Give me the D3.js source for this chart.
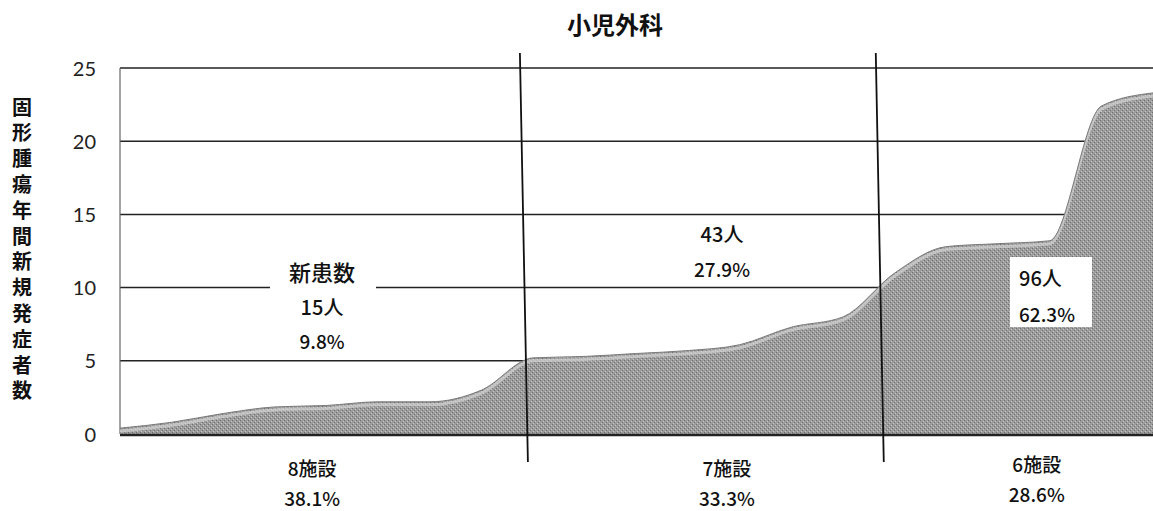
<!DOCTYPE html>
<html><head><meta charset="utf-8">
<script src="https://cdn.jsdelivr.net/npm/d3@7"></script>
<style>
body{margin:0;background:#fff;}
svg{display:block;}
</style></head>
<body>
<script>
// ---- data ----
const title = "小児外科";
const yLabel = "固形腫瘍年間新規発症者数";
const facilities = d3.range(1, 22); // 21 facilities
const patients = [0.4, 0.8, 1.4, 1.85, 1.95, 2.2, 2.2, 3.0,
                  5.2, 5.3, 5.5, 5.7, 6.1, 7.3, 8.0,
                  11.0, 12.8, 13.0, 13.2, 22.4, 23.3];
const yTicks = [0, 5, 10, 15, 20, 25];
const groupBreaks = [7.82, 14.71];
const groupCenters = [3.72, 11.75, 17.75];
const groupFacilities = ["8施設", "7施設", "6施設"];
const groupFacilityPct = ["38.1%", "33.3%", "28.6%"];
const groupPatients = ["15人", "43人", "96人"];
const groupPatientPct = ["9.8%", "27.9%", "62.3%"];

const W = 1153, H = 511;
const svg = d3.select("body").append("svg").attr("width", W).attr("height", H);

const x = d3.scaleLinear().domain([0, 20]).range([120, 1153]);
const y = d3.scaleLinear().domain([0, 25]).range([434, 68]);

// dither-like pattern
const defs = svg.append("defs");
const pat = defs.append("pattern").attr("id", "dith").attr("width", 4).attr("height", 4)
  .attr("patternUnits", "userSpaceOnUse");
pat.append("rect").attr("width", 4).attr("height", 4).attr("fill", "#9c9c9c");
pat.append("rect").attr("x", 0).attr("y", 0).attr("width", 1).attr("height", 1).attr("fill", "#6e6e6e");
pat.append("rect").attr("x", 2).attr("y", 2).attr("width", 1).attr("height", 1).attr("fill", "#6e6e6e");
pat.append("rect").attr("x", 1).attr("y", 3).attr("width", 1).attr("height", 1).attr("fill", "#c4c4c4");
pat.append("rect").attr("x", 3).attr("y", 1).attr("width", 1).attr("height", 1).attr("fill", "#c4c4c4");

// title
svg.append("text").attr("x", 615).attr("y", 34).attr("text-anchor", "middle")
  .attr("font-family", "Noto Sans CJK JP").attr("font-size", 24).attr("font-weight", 700)
  .attr("fill", "#111").text(title);

// y label (vertical, one text)
svg.append("text").attr("x", 22).attr("y", 97)
  .attr("font-family", "Noto Sans CJK JP").attr("font-size", 20).attr("font-weight", 700)
  .attr("fill", "#111").style("writing-mode", "vertical-rl").style("letter-spacing", "5.8px")
  .text(yLabel);

// gridlines
svg.append("g").selectAll("line").data(yTicks.filter(d => d > 0)).join("line")
  .attr("x1", x(0)).attr("x2", W).attr("y1", d => y(d)).attr("y2", d => y(d))
  .attr("stroke", "#222").attr("stroke-width", 1.5);

// left border of plot
svg.append("line").attr("x1", x(0)).attr("x2", x(0)).attr("y1", y(25)).attr("y2", y(0))
  .attr("stroke", "#666").attr("stroke-width", 1.2);

// y axis tick labels
const yAxis = d3.axisLeft(y).tickValues(yTicks).tickSize(0).tickPadding(0);
const gy = svg.append("g").attr("transform", "translate(96,0)").call(yAxis);
gy.select(".domain").remove();
gy.selectAll("text").attr("font-family", "Lato").attr("font-size", 20).attr("fill", "#222")
  .attr("dy", "0.35em");

// area
const curve = d3.curveMonotoneX;
const area = d3.area().x((d, i) => x(i)).y0(y(0)).y1(d => y(d)).curve(curve);
const line = d3.line().x((d, i) => x(i)).y(d => y(d)).curve(curve);
svg.append("path").datum(patients).attr("d", area).attr("fill", "url(#dith)");
svg.append("path").datum(patients).attr("d", line).attr("fill", "none")
  .attr("stroke", "#d4d4d4").attr("stroke-width", 3).attr("opacity", 0.7)
  .attr("transform", "translate(0,3)");
svg.append("path").datum(patients).attr("d", line).attr("fill", "none")
  .attr("stroke", "#7a7a7a").attr("stroke-width", 1);

// baseline
svg.append("line").attr("x1", x(0)).attr("x2", W).attr("y1", y(0) + 1).attr("y2", y(0) + 1)
  .attr("stroke", "#222").attr("stroke-width", 2.5);

// group dividers
svg.append("g").selectAll("line").data(groupBreaks).join("line")
  .attr("x1", d => x(d) - 4).attr("x2", d => x(d) + 4)
  .attr("y1", 53).attr("y2", 462)
  .attr("stroke", "#111").attr("stroke-width", 1.8);

const jp = "Noto Sans CJK JP";
function txt(xp, yp, s, size, anchor) {
  return svg.append("text").attr("x", xp).attr("y", yp).attr("text-anchor", anchor || "middle")
    .attr("font-family", jp).attr("font-size", size).attr("font-weight", 500).attr("fill", "#111")
    .attr("dominant-baseline", "central").text(s);
}

// group 1 annotation with white backing
svg.append("rect").attr("x", 270).attr("y", 255).attr("width", 106).attr("height", 100).attr("fill", "#fff");
txt(322, 271, "新患数", 22);
txt(322, 306, groupPatients[0], 20);
txt(322, 340, groupPatientPct[0], 19);

// group 2 annotation
txt(722, 233, groupPatients[1], 20);
txt(722, 268, groupPatientPct[1], 19);

// group 3 annotation (boxed)
svg.append("rect").attr("x", 1010).attr("y", 257).attr("width", 82).attr("height", 70).attr("fill", "#fff");
txt(1019, 277, groupPatients[2], 20, "start");
txt(1019, 313, groupPatientPct[2], 19, "start");

// bottom labels
groupCenters.forEach((c, i) => {
  const dy = i === 2 ? -4 : 0;
  txt(x(c), 467 + dy, groupFacilities[i], 19);
  txt(x(c), 497 + dy, groupFacilityPct[i], 19);
});
</script>
</body></html>
